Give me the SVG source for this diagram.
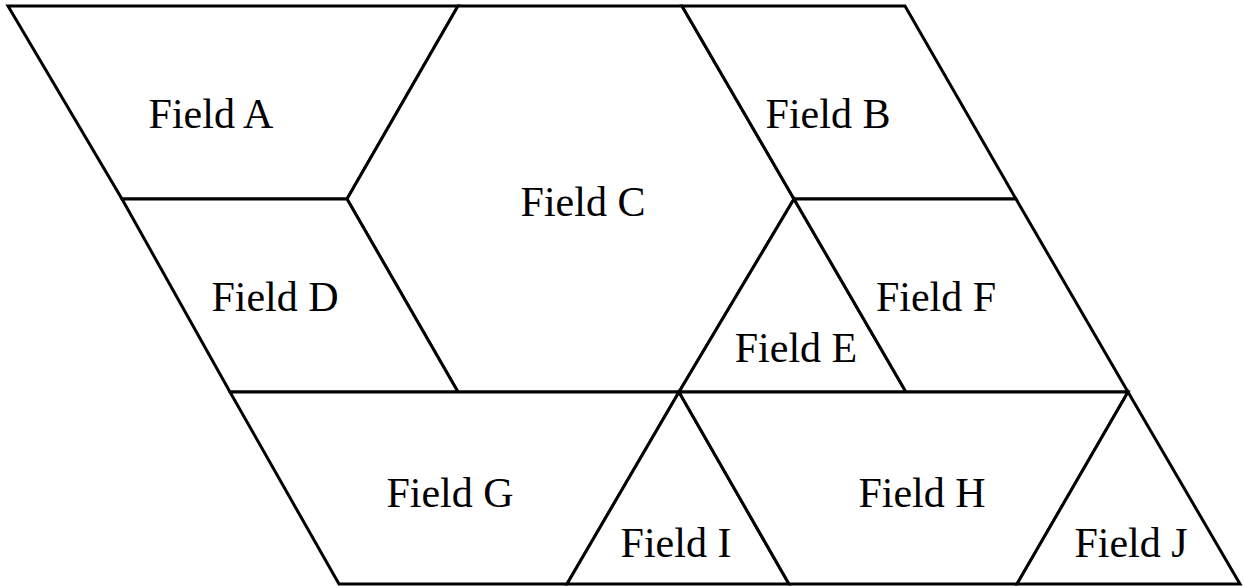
<svg xmlns="http://www.w3.org/2000/svg" width="1243" height="586" viewBox="0 0 1243 586">
<style>
.f{fill:#fff;stroke:#000;stroke-width:3;stroke-linejoin:miter}
.t{font-family:"Liberation Serif","Times New Roman",serif;font-size:42px;fill:#000;text-anchor:middle}
</style>
<rect width="1243" height="586" fill="#fff"/>
<g id="fieldA"><polygon class="f" points="8,6 458,6 347,199 122,199"/><text class="t" x="211" y="128">Field A</text></g>
<g id="fieldC"><polygon class="f" points="458,6 682,6 794,199 679,392 458,392 347,199"/><text class="t" x="583" y="216">Field C</text></g>
<g id="fieldB"><polygon class="f" points="682,6 905,6 1016,199 794,199"/><text class="t" x="828" y="128">Field B</text></g>
<g id="fieldD"><polygon class="f" points="122,199 347,199 458,392 230,392"/><text class="t" x="275" y="311">Field D</text></g>
<g id="fieldE"><polygon class="f" points="794,199 906,392 679,392"/><text class="t" x="796" y="362">Field E</text></g>
<g id="fieldF"><polygon class="f" points="794,199 1016,199 1128,392 906,392"/><text class="t" x="936" y="311">Field F</text></g>
<g id="fieldG"><polygon class="f" points="230,392 679,392 567,584 339,584"/><text class="t" x="450" y="507">Field G</text></g>
<g id="fieldI"><polygon class="f" points="679,392 789,584 567,584"/><text class="t" x="676" y="557">Field I</text></g>
<g id="fieldH"><polygon class="f" points="679,392 1128,392 1017,584 789,584"/><text class="t" x="922" y="507">Field H</text></g>
<g id="fieldJ"><polygon class="f" points="1128,392 1240,584 1017,584"/><text class="t" x="1131" y="557">Field J</text></g>
<g id="connectors"></g>
</svg>
